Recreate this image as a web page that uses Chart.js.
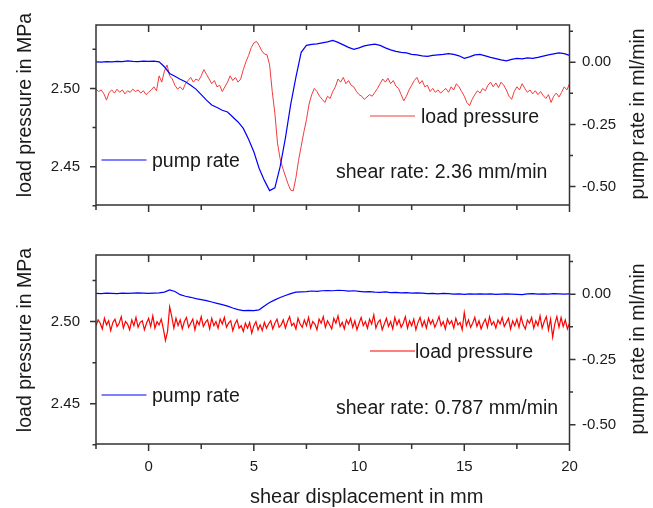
<!DOCTYPE html>
<html>
<head>
<meta charset="utf-8">
<script src="https://cdn.jsdelivr.net/npm/chart.js@4.4.1/dist/chart.umd.min.js"></script>
<style>
  body { margin: 0; background: #fff; }
  #wrap { position: relative; width: 653px; height: 508px; }
  canvas { position: absolute; left: 0; }
</style>
</head>
<body>
<div id="wrap">
  <canvas id="topChart" width="653" height="230" style="top:0"></canvas>
  <canvas id="bottomChart" width="653" height="278" style="top:230px"></canvas>
</div>
<script>
// shear displacement in mm, samples are evenly spaced starting at xStart
const xStart = -2.5;
const pumpStep = 0.25;
const loadStepFast = 0.125;
const loadStepSlow = 0.1;

// top panel, shear rate 2.36 mm/min
// pump rate in ml/min (one row = 1 mm)
const pumpRateFast = [
  0.002, 0.001, 0.003, 0.002,
  0.004, 0.003, 0.006, 0.004,
  0.003, 0.005, 0.004, 0.005,
  0.002, -0.018, -0.045, -0.056,
  -0.068, -0.078, -0.092, -0.108,
  -0.130, -0.152, -0.172, -0.182,
  -0.193, -0.200, -0.220, -0.240,
  -0.266, -0.310, -0.360, -0.426,
  -0.475, -0.516, -0.505, -0.420,
  -0.305, -0.170, -0.060, 0.040,
  0.068, 0.072, 0.074, 0.078,
  0.082, 0.088, 0.080, 0.070,
  0.060, 0.052, 0.058, 0.066,
  0.070, 0.073, 0.068, 0.058,
  0.050, 0.044, 0.040, 0.038,
  0.032, 0.030, 0.026, 0.024,
  0.028, 0.030, 0.032, 0.035,
  0.032, 0.026, 0.016, 0.022,
  0.030, 0.032, 0.026, 0.020,
  0.015, 0.010, 0.006, 0.012,
  0.016, 0.014, 0.018, 0.016,
  0.020, 0.025, 0.030, 0.034,
  0.038, 0.035,
  0.028
];
// load pressure in MPa (one row = 1 mm)
const loadPressureFast = [
  2.4995, 2.4980, 2.4990, 2.4965, 2.4925, 2.4975, 2.4990, 2.4970,
  2.4995, 2.4975, 2.4990, 2.4965, 2.4985, 2.4975, 2.4995, 2.4980,
  2.4990, 2.4970, 2.4985, 2.4960, 2.4975, 2.4990, 2.5010, 2.4985,
  2.5080, 2.5040, 2.5110, 2.5150, 2.5080, 2.5060, 2.5020, 2.4995,
  2.5010, 2.4990, 2.5030, 2.5050, 2.5070, 2.5040, 2.5060, 2.5050,
  2.5080, 2.5120, 2.5090, 2.5060, 2.5030, 2.5050, 2.5010, 2.5020,
  2.4980, 2.5010, 2.5040, 2.5080, 2.5050, 2.5070, 2.5040, 2.5060,
  2.5120, 2.5170, 2.5210, 2.5260, 2.5290, 2.5300, 2.5275, 2.5240,
  2.5220, 2.5215, 2.5150, 2.4980, 2.4840, 2.4650, 2.4550, 2.4490,
  2.4440, 2.4390, 2.4350, 2.4345, 2.4430, 2.4540, 2.4630, 2.4720,
  2.4800, 2.4900, 2.4960, 2.5000, 2.4980, 2.4950, 2.4930, 2.4910,
  2.4950, 2.4935, 2.4980, 2.5010, 2.5060, 2.5040, 2.5070, 2.5030,
  2.5050, 2.5020, 2.5010, 2.4980, 2.4960, 2.4950, 2.4930, 2.4945,
  2.4960, 2.4950, 2.4975, 2.5000, 2.5030, 2.5060, 2.5040, 2.5065,
  2.5030, 2.5050, 2.5015, 2.5000, 2.4960, 2.4920, 2.4950, 2.4990,
  2.5020, 2.5050, 2.5070, 2.5030, 2.5050, 2.5010, 2.5020, 2.4980,
  2.5000, 2.4975, 2.4990, 2.4970, 2.4985, 2.5000, 2.4975, 2.5010,
  2.4990, 2.5030, 2.5010, 2.4980, 2.4950, 2.4910, 2.4890, 2.4930,
  2.4960, 2.4985, 2.4970, 2.5000, 2.4985, 2.5020, 2.5040, 2.5010,
  2.5035, 2.5005, 2.5040, 2.5020, 2.4990, 2.4950, 2.4930, 2.4980,
  2.5010, 2.4990, 2.5030, 2.5000, 2.4975, 2.4990, 2.4965, 2.4985,
  2.4960, 2.4980, 2.4955, 2.4935, 2.4960, 2.4910, 2.4950, 2.4970,
  2.4945, 2.4975, 2.5010, 2.4990,
  2.5030
];

// bottom panel, shear rate 0.787 mm/min
const pumpRateSlow = [
  0.003, 0.002, 0.004, 0.003,
  0.002, 0.004, 0.003, 0.004,
  0.005, 0.004, 0.003, 0.004,
  0.005, 0.008, 0.016, 0.010,
  -0.002, -0.008, -0.012, -0.017,
  -0.021, -0.025, -0.030, -0.035,
  -0.040, -0.046, -0.053, -0.059,
  -0.063, -0.062, -0.063, -0.060,
  -0.045, -0.032, -0.022, -0.013,
  -0.005, 0.002, 0.008, 0.009,
  0.010, 0.012, 0.011, 0.013,
  0.014, 0.013, 0.015, 0.014,
  0.012, 0.013, 0.011, 0.009,
  0.010, 0.008, 0.007, 0.009,
  0.006, 0.007, 0.005, 0.006,
  0.004, 0.005, 0.004, 0.002,
  0.003, 0.001, 0.003, 0.002,
  0.000, 0.001, -0.001, 0.001,
  0.000, 0.001, 0.000, 0.001,
  -0.001, 0.000, 0.001, 0.000,
  -0.001, -0.002, 0.001, 0.002,
  0.000, 0.001, 0.000, 0.002,
  0.001, 0.000,
  0.001
];
// load pressure in MPa, 0.1 mm spacing (one row = 1 mm)
const loadPressureSlow = [
  2.4975, 2.5010, 2.4990, 2.4955, 2.5020, 2.4980, 2.5005, 2.4945, 2.4995, 2.5015,
  2.4970, 2.4990, 2.5030, 2.4960, 2.5000, 2.4985, 2.4950, 2.5010, 2.4975, 2.5025,
  2.4965, 2.4995, 2.5005, 2.4950, 2.4990, 2.5020, 2.4970, 2.5035, 2.4960, 2.5000,
  2.4980, 2.5015, 2.4955, 2.4885, 2.4940, 2.5090, 2.5030, 2.4960, 2.5020, 2.4975,
  2.5010, 2.4955, 2.5000, 2.5025, 2.4965, 2.4990, 2.5015, 2.4950, 2.5005, 2.4980,
  2.5030, 2.4970, 2.4995, 2.5010, 2.4955, 2.5020, 2.4975, 2.5000, 2.4960, 2.5015,
  2.4985, 2.5025, 2.4965, 2.4990, 2.5005, 2.4945, 2.4985, 2.5010, 2.4960, 2.4975,
  2.4940, 2.4990, 2.4960, 2.4995, 2.4930, 2.4975, 2.5000, 2.4950, 2.4980, 2.4945,
  2.4995, 2.4960, 2.4985, 2.5005, 2.4955, 2.4990, 2.5015, 2.4965, 2.4980, 2.5010,
  2.4960, 2.5000, 2.5030, 2.4975, 2.4990, 2.4955, 2.5020, 2.4985, 2.4965, 2.5010,
  2.4975, 2.5025, 2.4960, 2.5000, 2.4985, 2.4950, 2.5015, 2.4990, 2.5030, 2.4965,
  2.5005, 2.4980, 2.4955, 2.5020, 2.4990, 2.5035, 2.4970, 2.4995, 2.4955, 2.5010,
  2.4985, 2.5020, 2.4965, 2.5005, 2.4950, 2.4990, 2.5025, 2.4975, 2.5000, 2.4960,
  2.5015, 2.4985, 2.5040, 2.4960, 2.4995, 2.5010, 2.4950, 2.4985, 2.5020, 2.4970,
  2.5000, 2.4955, 2.5025, 2.4980, 2.5010, 2.4965, 2.4990, 2.5030, 2.4960, 2.5005,
  2.4975, 2.5015, 2.4950, 2.4995, 2.5025, 2.4970, 2.5005, 2.4960, 2.5020, 2.4985,
  2.5010, 2.4965, 2.4995, 2.5030, 2.4975, 2.5000, 2.4955, 2.5015, 2.4985, 2.5005,
  2.4960, 2.5020, 2.4980, 2.4995, 2.4950, 2.5055, 2.4975, 2.5010, 2.4965, 2.4990,
  2.5025, 2.4970, 2.5005, 2.4955, 2.4990, 2.5015, 2.4965, 2.5030, 2.4980, 2.5000,
  2.4960, 2.5010, 2.4985, 2.5025, 2.4970, 2.4995, 2.5020, 2.4955, 2.5005, 2.4975,
  2.5015, 2.4965, 2.5030, 2.4980, 2.4955, 2.5010, 2.4990, 2.5025, 2.4960, 2.5005,
  2.4975, 2.5035, 2.4960, 2.5000, 2.5030, 2.4950, 2.5015, 2.4905, 2.4985, 2.5030,
  2.4965, 2.5025, 2.4970, 2.5010, 2.4955,
  2.4990
];

// axis ticks
const xMajorTicks = [0, 5, 10, 15, 20];
const xMinorTicks = [-2.5, 2.5, 7.5, 12.5, 17.5];
const loadTicks = [2.45, 2.50];
const loadMinorTicks = [2.425, 2.475, 2.525];
const pumpTicks = [-0.50, -0.25, 0.00];
const pumpMinorTicks = [-0.375, -0.125, 0.125];

const fontFamily = '"Liberation Sans", Arial, sans-serif';
Chart.defaults.font.family = fontFamily;

function toPoints(values, step) {
  return values.map((v, i) => ({ x: xStart + i * step, y: v }));
}

// draws the box, the tick marks, legend lines and the labels inside the plot
const panelPlugin = {
  id: 'panel',
  afterDraw(chart, args, cfg) {
    const ctx = chart.ctx;
    const a = chart.chartArea;
    const sx = chart.scales.x, sl = chart.scales.yL, sr = chart.scales.yR;
    ctx.save();
    ctx.strokeStyle = '#333';
    ctx.lineWidth = 1.5;
    ctx.beginPath();
    ctx.rect(a.left, a.top, a.right - a.left, a.bottom - a.top);
    const tick = (x1, y1, x2, y2) => { ctx.moveTo(x1, y1); ctx.lineTo(x2, y2); };
    xMajorTicks.forEach(v => {
      const p = sx.getPixelForValue(v);
      tick(p, a.bottom, p, a.bottom + 7);
      tick(p, a.top, p, a.top + 7);
    });
    xMinorTicks.forEach(v => {
      const p = sx.getPixelForValue(v);
      tick(p, a.bottom, p, a.bottom + 5);
      tick(p, a.top, p, a.top + 5);
    });
    loadTicks.forEach(v => { const p = sl.getPixelForValue(v); tick(a.left - 6, p, a.left, p); });
    loadMinorTicks.forEach(v => { const p = sl.getPixelForValue(v); tick(a.left - 3.5, p, a.left, p); });
    pumpTicks.forEach(v => { const p = sr.getPixelForValue(v); tick(a.right, p, a.right + 6, p); });
    pumpMinorTicks.forEach(v => { const p = sr.getPixelForValue(v); tick(a.right, p, a.right + 3.5, p); });
    ctx.stroke();

    // legend lines
    ctx.lineWidth = 1.2;
    ctx.strokeStyle = '#0000ff';
    ctx.beginPath();
    tick(101.5, cfg.pumpY, 146.5, cfg.pumpY);
    ctx.stroke();
    ctx.strokeStyle = cfg.redColor;
    ctx.beginPath();
    tick(370, cfg.loadY, 415, cfg.loadY);
    ctx.stroke();

    ctx.fillStyle = '#1a1a1a';
    ctx.font = '19.5px ' + fontFamily;
    ctx.textBaseline = 'alphabetic';
    ctx.textAlign = 'left';
    ctx.fillText('pump rate', 152, cfg.pumpY + 6.7);
    ctx.fillText('load pressure', cfg.loadTextX, cfg.loadY + 6.7);
    ctx.fillText(cfg.rateText, 336, cfg.rateY);

    // axis titles
    ctx.textAlign = 'center';
    ctx.save();
    ctx.translate(31, cfg.leftTitleY);
    ctx.rotate(-Math.PI / 2);
    ctx.fillText('load pressure in MPa', 0, 0);
    ctx.restore();
    ctx.save();
    ctx.translate(644, cfg.rightTitleY);
    ctx.rotate(-Math.PI / 2);
    ctx.fillText('pump rate in ml/min', 0, 0);
    ctx.restore();
    if (cfg.showX) {
      ctx.font = '20px ' + fontFamily;
      ctx.fillText('shear displacement in mm', 366.7, 272.7);
    }
    ctx.restore();
  }
};

function buildChart(id, pump, load, loadStep, cfg) {
  const tickFont = { size: 15 };
  return new Chart(document.getElementById(id), {
    type: 'line',
    data: {
      datasets: [
        {
          label: 'pump rate',
          data: toPoints(pump, pumpStep),
          yAxisID: 'yR',
          borderColor: '#0000ff',
          borderWidth: 1.2,
          pointRadius: 0,
          order: 0
        },
        {
          label: 'load pressure',
          data: toPoints(load, loadStep),
          yAxisID: 'yL',
          borderColor: cfg.redColor,
          borderWidth: cfg.redWidth,
          pointRadius: 0,
          order: 1
        }
      ]
    },
    options: {
      responsive: false,
      animation: false,
      layout: { padding: { top: cfg.padTop, left: 0, right: 0, bottom: 0 } },
      plugins: {
        legend: { display: false },
        tooltip: { enabled: false },
        panel: cfg
      },
      scales: {
        x: {
          type: 'linear',
          min: -2.5,
          max: 20,
          grid: { display: false, drawTicks: false },
          border: { display: false },
          ticks: { display: cfg.showX, padding: 14, color: '#1a1a1a', font: tickFont },
          afterBuildTicks: s => { s.ticks = xMajorTicks.map(v => ({ value: v })); },
          afterFit: s => { s.height = cfg.xHeight; }
        },
        yL: {
          position: 'left',
          min: 2.4255,
          max: 2.5405,
          grid: { display: false, drawTicks: false },
          border: { display: false },
          ticks: { padding: 16, color: '#1a1a1a', font: tickFont, callback: v => v.toFixed(2) },
          afterBuildTicks: s => { s.ticks = loadTicks.map(v => ({ value: v })); },
          afterFit: s => { s.width = 96; }
        },
        yR: {
          position: 'right',
          min: -0.574,
          max: 0.15,
          grid: { display: false, drawTicks: false },
          border: { display: false },
          ticks: { padding: 12.5, color: '#1a1a1a', font: tickFont, callback: v => v.toFixed(2) },
          afterBuildTicks: s => { s.ticks = pumpTicks.map(v => ({ value: v })); },
          afterFit: s => { s.width = 83.5; }
        }
      }
    },
    plugins: [panelPlugin]
  });
}

buildChart('topChart', pumpRateFast, loadPressureFast, loadStepFast, {
  padTop: 18.5, xHeight: 20.5, showX: false,
  redColor: '#f23c3c', redWidth: 1,
  pumpY: 160, loadY: 116, loadTextX: 421,
  rateText: 'shear rate: 2.36 mm/min', rateY: 178.3,
  leftTitleY: 105, rightTitleY: 114
});

buildChart('bottomChart', pumpRateSlow, loadPressureSlow, loadStepSlow, {
  padTop: 24, xHeight: 64, showX: true,
  redColor: '#ff0000', redWidth: 1.2,
  pumpY: 165, loadY: 121, loadTextX: 415,
  rateText: 'shear rate: 0.787 mm/min', rateY: 184,
  leftTitleY: 110, rightTitleY: 119
});
</script>
</body>
</html>
